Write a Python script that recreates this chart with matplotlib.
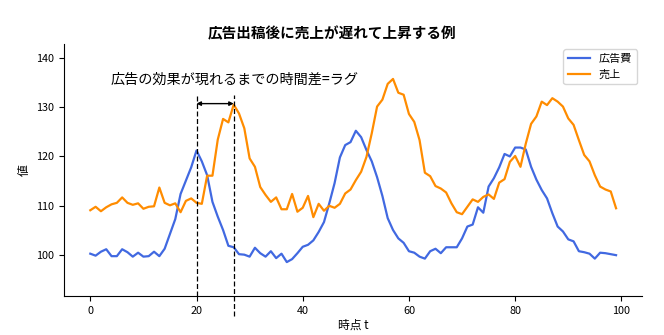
import matplotlib.pyplot as plt
import numpy as np

plt.rcParams['font.family'] = ['Noto Sans CJK JP', 'DejaVu Sans']

t = np.arange(100)

ad_spend = [
    100.3, 99.9, 100.7, 101.2, 99.8, 99.8, 101.2, 100.6, 99.7, 100.5,
    99.7, 99.8, 100.7, 99.8, 101.3, 104.3, 107.3, 112.4, 115.1, 117.8,
    121.2, 119.0, 116.2, 110.8, 107.8, 105.1, 101.9, 101.6, 100.2, 100.1,
    99.7, 101.5, 100.4, 99.7, 100.8, 99.4, 100.3, 98.6, 99.2, 100.4,
    101.7, 102.1, 103.0, 104.7, 106.7, 110.5, 114.6, 119.8, 122.3, 122.9,
    125.2, 123.9, 121.3, 119.0, 115.8, 112.0, 107.5, 105.1, 103.4, 102.5,
    100.8, 100.5, 99.7, 99.3, 100.8, 101.3, 100.4, 101.6, 101.6, 101.6,
    103.4, 105.8, 106.2, 109.7, 108.6, 113.9, 115.6, 117.8, 120.5, 120.0,
    121.8, 121.8, 121.4, 117.9, 115.3, 113.2, 111.5, 108.5, 105.8, 104.8,
    103.2, 102.8, 100.8, 100.6, 100.3, 99.3, 100.5, 100.4, 100.2, 100.0,
]

sales = [
    109.1, 109.8, 108.9, 109.7, 110.3, 110.6, 111.7, 110.6, 110.2, 110.5,
    109.4, 109.8, 109.9, 113.7, 110.6, 110.1, 110.5, 108.7, 111.0, 111.5,
    110.6, 110.4, 116.1, 116.1, 123.4, 127.6, 126.9, 130.5, 128.7, 125.7,
    119.6, 117.9, 113.8, 112.2, 110.8, 111.7, 109.3, 109.3, 112.4, 108.8,
    109.6, 112.0, 107.7, 110.4, 109.0, 110.0, 109.6, 110.4, 112.5, 113.3,
    115.2, 116.9, 119.9, 124.7, 130.1, 131.5, 134.7, 135.7, 132.9, 132.5,
    128.6, 127.0, 123.3, 116.7, 116.0, 114.0, 113.5, 112.7, 110.5, 108.7,
    108.3, 109.8, 111.3, 110.8, 111.8, 112.3, 111.4, 114.7, 115.4, 118.9,
    120.1, 117.9, 122.6, 126.6, 128.1, 131.1, 130.4, 131.8, 131.1, 130.1,
    127.7, 126.4, 123.3, 120.3, 119.0, 116.2, 113.9, 113.3, 112.9, 109.5,
]

ad_peak = 20
sales_peak = 27

fig = plt.figure(figsize=(6.64, 3.35), dpi=100)
ax = fig.add_axes([0.0964, 0.116, 0.871, 0.753])

ax.plot(t, ad_spend, color='royalblue', lw=1.6, label='広告費')
ax.plot(t, sales, color='darkorange', lw=1.6, label='売上')

ax.set_xlim(-4.95, 103.95)
ax.set_ylim(91.7, 142.8)

# ラグを示す縦線と矢印
ax.plot([ad_peak, ad_peak], [91.7, 132.5], 'k--', lw=0.9, dashes=(4, 2))
ax.plot([sales_peak, sales_peak], [87.6, 132.5], 'k--', lw=0.9, dashes=(4, 2),
        clip_on=False)
ax.annotate('', xy=(sales_peak, 130.7), xytext=(ad_peak, 130.7),
            arrowprops=dict(arrowstyle='<|-|>', color='black', lw=1,
                            mutation_scale=6, shrinkA=0, shrinkB=0))
ax.text(27.2, 135.6, '広告の効果が現れるまでの時間差=ラグ', ha='center',
        va='center', fontsize=10.2)

fig.suptitle('広告出稿後に売上が遅れて上昇する例', fontsize=10.5,
             fontweight='bold', x=0.5, y=0.90, va='center')
ax.set_xlabel('時点 t', fontsize=8.5, labelpad=2)
ax.set_ylabel('値', fontsize=8.5)
ax.tick_params(labelsize=7.8)
ax.spines['top'].set_visible(False)
ax.spines['right'].set_visible(False)
ax.legend(loc='upper right', fontsize=8)

plt.savefig('out.png', dpi=100)
